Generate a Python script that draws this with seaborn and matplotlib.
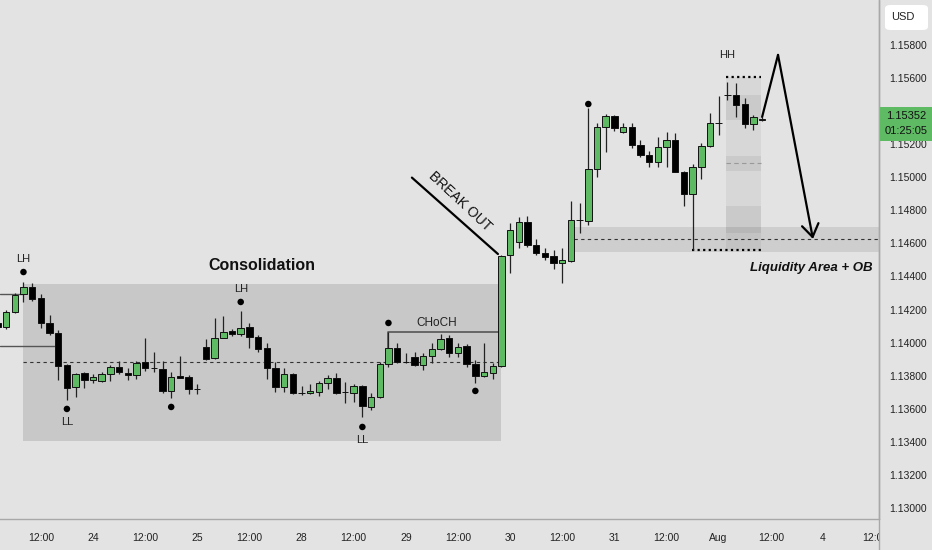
import numpy as np
import pandas as pd
import matplotlib
matplotlib.use('Agg')
import matplotlib.pyplot as plt
from matplotlib.patches import Rectangle, FancyBboxPatch
from matplotlib.lines import Line2D
import seaborn as sns

# 2h candles, bar index 0 = 24 Jul 00:00 (weekend bars skipped)
bar_idx = list(range(-11, 78))
opens = [1.14119, 1.14095, 1.14185, 1.14294, 1.14336, 1.14270, 1.14119, 1.14058, 1.13865, 1.13732,
         1.13816, 1.13774, 1.13768, 1.13810, 1.13853, 1.13816, 1.13804, 1.13883, 1.13847, 1.13841,
         1.13708, 1.13798, 1.13792, 1.13720, 1.13974, 1.13907, 1.14028, 1.14070, 1.14052, 1.14095,
         1.14034, 1.13968, 1.13847, 1.13732, 1.13810, 1.13695, 1.13695, 1.13701, 1.13756, 1.13786,
         1.13701, 1.13695, 1.13738, 1.13611, 1.13671, 1.13871, 1.13968, 1.13883, 1.13913, 1.13865,
         1.13919, 1.13961, 1.14028, 1.13937, 1.13980, 1.13871, 1.13798, 1.13816, 1.13859, 1.14530,
         1.14609, 1.14730, 1.14590, 1.14542, 1.14524, 1.14482, 1.14494, 1.14742, 1.14736, 1.15050,
         1.15304, 1.15371, 1.15274, 1.15304, 1.15195, 1.15135, 1.15092, 1.15183, 1.15225, 1.15032,
         1.14899, 1.15062, 1.15189, 1.15328, 1.15498, 1.15498, 1.15443, 1.15322, 1.15345]
highs = [1.14131, 1.14197, 1.14300, 1.14367, 1.14361, 1.14294, 1.14167, 1.14076, 1.13871, 1.13816,
         1.13822, 1.13810, 1.13822, 1.13865, 1.13889, 1.13847, 1.13889, 1.14028, 1.13943, 1.13889,
         1.13822, 1.13919, 1.13804, 1.13750, 1.14022, 1.14149, 1.14161, 1.14082, 1.14191, 1.14119,
         1.14046, 1.13998, 1.13883, 1.13847, 1.13816, 1.13738, 1.13750, 1.13768, 1.13804, 1.13816,
         1.13762, 1.13750, 1.13744, 1.13695, 1.13883, 1.14064, 1.13998, 1.13937, 1.13943, 1.13937,
         1.13998, 1.14052, 1.14046, 1.13998, 1.13992, 1.13895, 1.13998, 1.13877, 1.14530, 1.14724,
         1.14760, 1.14766, 1.14627, 1.14572, 1.14560, 1.14572, 1.14857, 1.14844, 1.15419, 1.15328,
         1.15383, 1.15377, 1.15328, 1.15328, 1.15225, 1.15159, 1.15244, 1.15274, 1.15268, 1.15035,
         1.15080, 1.15207, 1.15389, 1.15492, 1.15576, 1.15570, 1.15479, 1.15377, 1.15362]
lows = [1.14082, 1.14082, 1.14179, 1.14246, 1.14252, 1.14088, 1.14046, 1.13774, 1.13653, 1.13671,
        1.13726, 1.13756, 1.13762, 1.13768, 1.13810, 1.13774, 1.13780, 1.13828, 1.13822, 1.13695,
        1.13665, 1.13786, 1.13689, 1.13689, 1.13895, 1.13901, 1.14025, 1.14040, 1.14040, 1.13968,
        1.13943, 1.13780, 1.13701, 1.13701, 1.13689, 1.13683, 1.13689, 1.13677, 1.13720, 1.13690,
        1.13635, 1.13641, 1.13550, 1.13593, 1.13668, 1.13853, 1.13877, 1.13877, 1.13859, 1.13834,
        1.13877, 1.13958, 1.13913, 1.13913, 1.13853, 1.13756, 1.13792, 1.13780, 1.13853, 1.14421,
        1.14572, 1.14578, 1.14530, 1.14500, 1.14445, 1.14361, 1.14488, 1.14663, 1.14711, 1.15002,
        1.15153, 1.15280, 1.15268, 1.15177, 1.15123, 1.15062, 1.15062, 1.15062, 1.15030, 1.14826,
        1.14560, 1.14990, 1.15183, 1.15256, 1.15467, 1.15365, 1.15298, 1.15286, 1.15340]
closes = [1.14095, 1.14185, 1.14288, 1.14336, 1.14264, 1.14119, 1.14058, 1.13859, 1.13726, 1.13810,
          1.13774, 1.13792, 1.13810, 1.13853, 1.13822, 1.13804, 1.13877, 1.13847, 1.13845, 1.13708,
          1.13792, 1.13786, 1.13720, 1.13718, 1.13901, 1.14028, 1.14064, 1.14052, 1.14088, 1.14034,
          1.13961, 1.13847, 1.13732, 1.13810, 1.13695, 1.13693, 1.13708, 1.13756, 1.13786, 1.13695,
          1.13699, 1.13738, 1.13617, 1.13671, 1.13871, 1.13968, 1.13883, 1.13881, 1.13865, 1.13919,
          1.13961, 1.14022, 1.13937, 1.13974, 1.13871, 1.13798, 1.13822, 1.13859, 1.14524, 1.14681,
          1.14730, 1.14590, 1.14542, 1.14518, 1.14482, 1.14500, 1.14742, 1.14740, 1.15050, 1.15304,
          1.15371, 1.15298, 1.15304, 1.15195, 1.15135, 1.15092, 1.15183, 1.15225, 1.15032, 1.14899,
          1.15062, 1.15189, 1.15328, 1.15330, 1.15500, 1.15437, 1.15322, 1.15365, 1.15352]

# swing points marked with dots
swing_x = [-8, -3, 9, 17, 31, 34, 44, 57]
swing_y = [1.14427, 1.13599, 1.13611, 1.14246, 1.13490, 1.14119, 1.13708, 1.15443]
swing_labels = [('LH', -8, 1.14427, 1), ('LL', -3, 1.13599, -1), ('LH', 17, 1.14246, 1), ('LL', 31, 1.13490, -1)]

# axis ticks
price_ticks = [1.130, 1.132, 1.134, 1.136, 1.138, 1.140, 1.142, 1.144, 1.146, 1.148,
               1.150, 1.152, 1.154, 1.156, 1.158]
time_ticks = [-6, 0, 6, 12, 18, 24, 30, 36, 42, 48, 54, 60, 66, 72, 78, 84, 90]
time_labels = ['12:00', '24', '12:00', '25', '12:00', '28', '12:00', '29', '12:00', '30',
               '12:00', '31', '12:00', 'Aug', '12:00', '4', '12:00']

last_price = '1.15352'
countdown = '01:25:05'

df = pd.DataFrame({'bar': bar_idx, 'open': opens, 'high': highs, 'low': lows, 'close': closes})
swings = pd.DataFrame({'bar': swing_x, 'price': swing_y})

sns.set_theme(style='white')
FAM = ['Liberation Sans', 'DejaVu Sans']
plt.rcParams['font.family'] = FAM

bg = '#e3e3e3'
green = '#5fba64'
W, H = 932, 550
fig = plt.figure(figsize=(W / 100, H / 100), dpi=100)
fig.patch.set_facecolor(bg)
ax = fig.add_axes([0, 31 / H, 879 / W, 519 / H])
ax.set_facecolor(bg)
x_lo, x_hi = -10.70, 90.45
ax.set_xlim(x_lo, x_hi)
ax.set_ylim(1.129334, 1.160721)

# zones
ax.add_patch(Rectangle((-8, 1.13405), 55, 1.14354 - 1.13405, facecolor='#c8c8c8', edgecolor='none', zorder=1))
ax.add_patch(Rectangle((55.4, 1.14548), x_hi - 55.4, 1.14699 - 1.14548, facecolor='black', alpha=0.09,
                       edgecolor='none', zorder=1))
ax.add_patch(Rectangle((72.85, 1.14560), 4.02, 1.15606 - 1.14560, facecolor='black', alpha=0.05,
                       edgecolor='none', zorder=1))
for lo, hi in [(1.15346, 1.15498), (1.15038, 1.15129), (1.14663, 1.14826)]:
    ax.add_patch(Rectangle((72.85, lo), 4.02, hi - lo, facecolor='black', alpha=0.06, edgecolor='none', zorder=1))

# lines of the drawing
ax.plot([-8, 47], [1.13883, 1.13883], color='#333333', lw=0.8, ls=(0, (3, 3)), zorder=2)
ax.plot([55.4, x_hi], [1.14627, 1.14627], color='#333333', lw=0.8, ls=(0, (3, 3)), zorder=2)
ax.plot([72.85, 76.87], [1.15086, 1.15086], color='#999999', lw=0.8, ls=(0, (4, 3)), zorder=2)
ax.plot([72.85, 76.87], [1.15606, 1.15606], color='black', lw=1.6, ls=(0, (1, 1.5)), zorder=2)
ax.plot([68.9, 76.87], [1.14560, 1.14560], color='black', lw=1.6, ls=(0, (1, 1.5)), zorder=2)
ax.plot([x_lo, -8], [1.14294, 1.14294], color='#555555', lw=1, zorder=2)
ax.plot([x_lo, -4], [1.13981, 1.13981], color='#555555', lw=1, zorder=2)
ax.plot([34, 34, 47], [1.13968, 1.14064, 1.14064], color='#555555', lw=1.2, zorder=2)
ax.plot([36.7, 46.6], [1.14998, 1.14536], color='black', lw=1.6, zorder=2)

# candles
up = df['close'] >= df['open']
ax.vlines(df['bar'], df['low'], df['high'], color='#222222', lw=0.9, zorder=3)
body_lo = np.minimum(df['open'], df['close'])
body_h = np.maximum(np.abs(df['close'] - df['open']), 0.000012)
ax.bar(df['bar'], body_h, bottom=body_lo, width=0.74,
       color=np.where(up, green, 'black'), edgecolor='#111111', linewidth=0.7, zorder=4)

sns.scatterplot(data=swings, x='bar', y='price', color='black', s=22, edgecolor='none', zorder=5, ax=ax, legend=False)

for txt, bx, by, d in swing_labels:
    ax.annotate(txt, (bx, by), xytext=(0, 9.5 * d), textcoords='offset points', ha='center', va='center',
                fontsize=8, color='#222222')
ax.text(72.96, 1.15740, 'HH', ha='center', va='center', fontsize=8, color='#222222')
ax.text(39.6, 1.14119, 'CHoCH', ha='center', va='center', fontsize=8.5, color='#222222')
ax.text(19.45, 1.14464, 'Consolidation', ha='center', va='center', fontsize=11.5, fontweight='bold', color='#111111')
ax.text(42.3, 1.14851, 'BREAK OUT', ha='center', va='center', rotation=-43, rotation_mode='anchor',
        fontsize=10, color='#111111')
ax.text(82.7, 1.14451, 'Liquidity Area + OB', ha='center', va='center', fontsize=9.5, fontstyle='italic',
        fontweight='bold', color='#111111')

# projected path
ax.plot([77.0, 78.83], [1.15365, 1.15740], color='black', lw=1.6, zorder=6)
ax.annotate('', xy=(82.85, 1.14627), xytext=(78.83, 1.15740),
            arrowprops=dict(arrowstyle='->,head_length=0.45,head_width=0.3', color='black', lw=1.6,
                            mutation_scale=20, shrinkA=0, shrinkB=0), zorder=6)

# axes styling
ax.yaxis.tick_right()
ax.set_yticks(price_ticks)
ax.set_yticklabels([f'{v:.5f}' for v in price_ticks])
ax.set_xticks(time_ticks)
ax.set_xticklabels(time_labels)
ax.tick_params(axis='y', length=0, pad=7, labelsize=7.5, labelcolor='#222222')
ax.tick_params(axis='x', length=0, pad=10, labelsize=7.5, labelcolor='#222222')
ax.set_xlabel('')
ax.set_ylabel('')
for s in ['top', 'left']:
    ax.spines[s].set_visible(False)
for s in ['right', 'bottom']:
    ax.spines[s].set_color('#a8a8a8')
    ax.spines[s].set_linewidth(1)

# right panel overlays
fig.add_artist(Rectangle((880 / W, 0), 52 / W, 30 / H, transform=fig.transFigure, facecolor=bg,
                         edgecolor='none', zorder=5))
fig.add_artist(Line2D([879 / W, 879 / W], [0, 1], transform=fig.transFigure, color='#a8a8a8', lw=1, zorder=6))
fig.add_artist(Rectangle((880 / W, (H - 141) / H), 52 / W, 34 / H, transform=fig.transFigure,
                         facecolor=green, edgecolor='none', zorder=7))
fig.text(906 / W, (H - 116) / H, last_price, ha='center', va='center', fontsize=8, color='#111111', zorder=8)
fig.text(906 / W, (H - 131) / H, countdown, ha='center', va='center', fontsize=8, color='#111111', zorder=8)
fig.add_artist(FancyBboxPatch((885 / W, (H - 30) / H), 43 / W, 25 / H, transform=fig.transFigure,
                              boxstyle='round,pad=0,rounding_size=0.006', facecolor='white',
                              edgecolor='none', zorder=7))
fig.text(891 / W, (H - 17) / H, 'USD', ha='left', va='center', fontsize=8, color='#222222', zorder=8)

plt.savefig('out.png', dpi=100, facecolor=bg)
